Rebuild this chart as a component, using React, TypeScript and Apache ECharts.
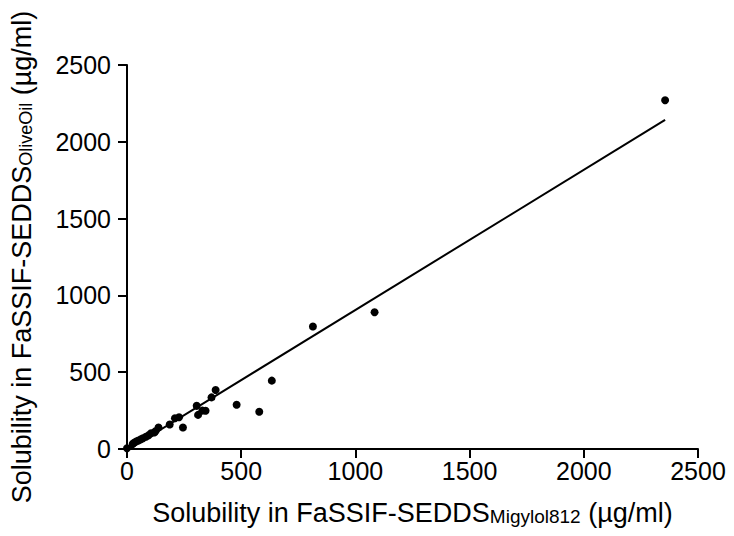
import React, { useEffect, useRef } from "react";
import * as echarts from "echarts";

const xValues = [0, 25, 30, 39, 50, 61, 70, 83, 95, 105, 119, 125, 138, 187, 210, 228, 245, 305, 311, 330, 344, 370, 388, 480, 579, 634, 814, 1084, 2356];
const yValues = [5, 33, 40, 48, 55, 63, 70, 80, 90, 102, 107, 115, 140, 159, 200, 207, 140, 281, 222, 250, 249, 336, 384, 288, 242, 445, 798, 890, 2271];
const fitX = [0, 2356];
const fitY = [-8, 2143];
const xTicks = { min: 0, max: 2500, interval: 500 };
const yTicks = { min: 0, max: 2500, interval: 500 };

export default function App() {
  const ref = useRef<HTMLDivElement>(null);
  useEffect(() => {
    if (!ref.current) return;
    const chart = echarts.init(ref.current, null, { renderer: "svg" });
    const font = "Liberation Sans";
    const label = (margin: number) => ({
      show: true,
      color: "#000",
      fontSize: 25,
      fontFamily: font,
      margin,
      formatter: (v: number) => String(v),
    });
    const axisCommon = {
      type: "value" as const,
      splitLine: { show: false },
      axisLine: { show: true, lineStyle: { color: "#000", width: 2 } },
      axisTick: { show: true, length: 9, lineStyle: { color: "#000", width: 2 } },
      nameLocation: "middle" as const,
    };
    const richX = {
      a: { fontSize: 27, fontFamily: font, color: "#000" },
      b: { fontSize: 19, fontFamily: font, color: "#000", verticalAlign: "bottom" as const },
    };
    const richY = {
      a: { fontSize: 27, fontFamily: font, color: "#000" },
      b: { fontSize: 18, fontFamily: font, color: "#000", verticalAlign: "bottom" as const },
    };
    chart.setOption({
      animation: false,
      backgroundColor: "#fff",
      textStyle: { fontFamily: font, fontSize: 25, color: "#000" },
      grid: { left: 124, right: 36, top: 65, bottom: 87, containLabel: false },
      xAxis: {
        ...axisCommon,
        ...xTicks,
        axisLabel: label(9),
        name: "{a|Solubility in FaSSIF-SEDDS}{b|Migylol812}{a| (µg/ml)}",
        nameGap: 50,
        nameTextStyle: { rich: richX },
      },
      yAxis: {
        ...axisCommon,
        ...yTicks,
        axisLabel: label(16),
        name: "{a|Solubility in FaSSIF-SEDDS}{b|OliveOil}{a| (µg/ml)}",
        nameGap: 92,
        nameTextStyle: { rich: richY },
      },
      series: [
        {
          type: "scatter",
          data: xValues.map((x, i) => [x, yValues[i]]),
          symbol: "circle",
          symbolSize: 8,
          itemStyle: { color: "#000", opacity: 1 },
          silent: true,
        },
        {
          type: "line",
          data: fitX.map((x, i) => [x, fitY[i]]),
          showSymbol: false,
          lineStyle: { color: "#000", width: 2 },
          silent: true,
        },
      ],
    });
    return () => chart.dispose();
  }, []);
  return <div ref={ref} style={{ width: 734, height: 536, margin: -8 }} />;
}
